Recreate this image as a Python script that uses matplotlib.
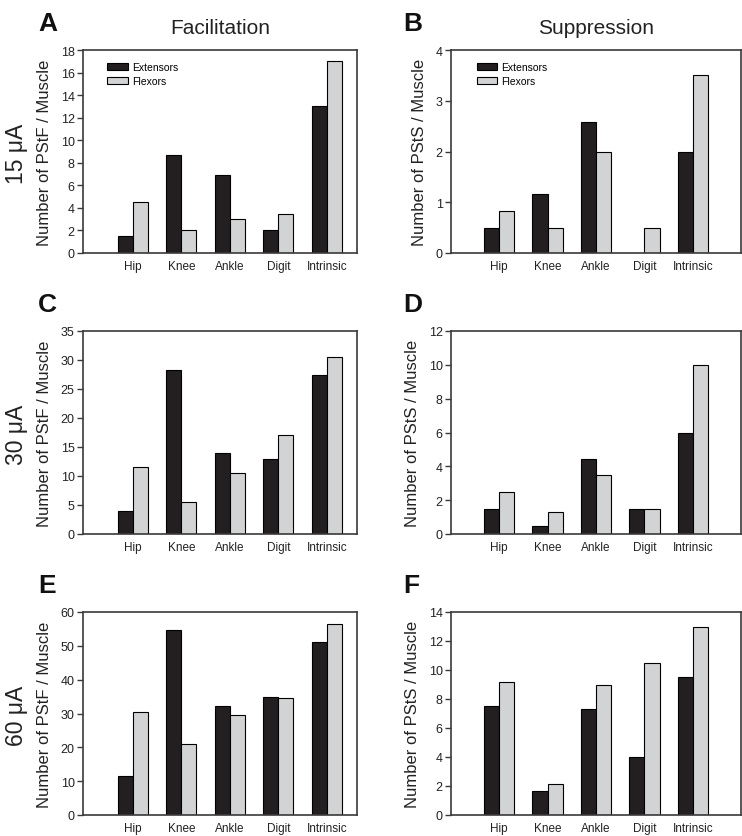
import matplotlib
matplotlib.use("Agg")
import matplotlib.pyplot as plt
import numpy as np

plt.rcParams['font.family'] = ['Liberation Sans', 'DejaVu Sans']

categories = ["Hip", "Knee", "Ankle", "Digit", "Intrinsic"]
series_names = ["Extensors", "Flexors"]

# Facilitation (PStF)
fac_15_ext = [1.5, 8.7, 6.9, 2.0, 13.0]
fac_15_flx = [4.5, 2.0, 3.0, 3.5, 17.0]
fac_30_ext = [4.0, 28.3, 14.0, 13.0, 27.5]
fac_30_flx = [11.5, 5.5, 10.5, 17.0, 30.5]
fac_60_ext = [11.5, 54.7, 32.2, 35.0, 51.0]
fac_60_flx = [30.3, 21.0, 29.5, 34.5, 56.5]

# Suppression (PStS)
sup_15_ext = [0.5, 1.17, 2.58, 0.0, 2.0]
sup_15_flx = [0.83, 0.5, 2.0, 0.5, 3.5]
sup_30_ext = [1.5, 0.5, 4.45, 1.5, 6.0]
sup_30_flx = [2.5, 1.33, 3.5, 1.5, 10.0]
sup_60_ext = [7.5, 1.67, 7.3, 4.0, 9.5]
sup_60_flx = [9.17, 2.17, 9.0, 10.5, 13.0]

row_labels = ["15 \u03bcA", "30 \u03bcA", "60 \u03bcA"]
col_titles = ["Facilitation", "Suppression"]
panel_letters = [["A", "B"], ["C", "D"], ["E", "F"]]
ylabels = ["Number of PStF / Muscle", "Number of PStS / Muscle"]

panels = [
    [(fac_15_ext, fac_15_flx, 18, 2), (sup_15_ext, sup_15_flx, 4, 1)],
    [(fac_30_ext, fac_30_flx, 35, 5), (sup_30_ext, sup_30_flx, 12, 2)],
    [(fac_60_ext, fac_60_flx, 60, 10), (sup_60_ext, sup_60_flx, 14, 2)],
]

W, H = 742, 837
fig = plt.figure(figsize=(W / 100, H / 100), dpi=100)

ext_color = "#231f20"
flx_color = "#d1d3d4"
spine_color = "#3a3a3a"

col_left = [83, 451]
col_width = [274, 290]
row_top = [51, 332, 613]
row_h = 203
xlims = [(-1.03, 4.62), (-0.99, 4.99)]
bw = 0.31

for r in range(3):
    for c in range(2):
        ext, flx, ymax, step = panels[r][c]
        ax = fig.add_axes([col_left[c] / W, 1 - (row_top[r] + row_h) / H,
                           col_width[c] / W, row_h / H])
        x = np.arange(len(categories))
        ax.bar(x - bw / 2, ext, bw, color=ext_color, edgecolor="black",
               linewidth=0.8, label=series_names[0], zorder=2)
        ax.bar(x + bw / 2, flx, bw, color=flx_color, edgecolor="black",
               linewidth=0.8, label=series_names[1], zorder=2)
        ax.set_xlim(*xlims[c])
        ax.set_ylim(0, ymax)
        ax.set_yticks(np.arange(0, ymax + 0.001, step))
        ax.set_xticks(x)
        ax.set_xticklabels(categories, fontsize=8.5, color="#222222")
        ax.tick_params(axis="x", length=0, pad=5)
        ax.tick_params(axis="y", direction="out", length=4, width=1,
                       color=spine_color, labelsize=9, labelcolor="#222222", pad=2)
        for s in ax.spines.values():
            s.set_color(spine_color)
            s.set_linewidth(1.2)
        ax.set_ylabel(ylabels[c], fontsize=12, color="#222222", labelpad=6)
        if r == 0:
            ax.legend(loc="upper left", bbox_to_anchor=(0.07, 0.965),
                      frameon=False, fontsize=7.5, borderpad=0,
                      handlelength=2.0, handleheight=0.7, labelspacing=0.35,
                      handletextpad=0.35)
            ax.set_title(col_titles[c], fontsize=15, color="#222222", pad=12)
        lx = 38 if c == 0 else 403
        ly = row_top[r] - 27
        fig.text(lx / W, 1 - ly / H, panel_letters[r][c], fontsize=19,
                 fontweight="bold", ha="left", va="center", color="#111111")
    fig.text(17 / W, 1 - (row_top[r] + 103) / H, row_labels[r], fontsize=16.5,
             rotation=90, ha="center", va="center", color="#222222")

fig.savefig("out.png", dpi=100)
